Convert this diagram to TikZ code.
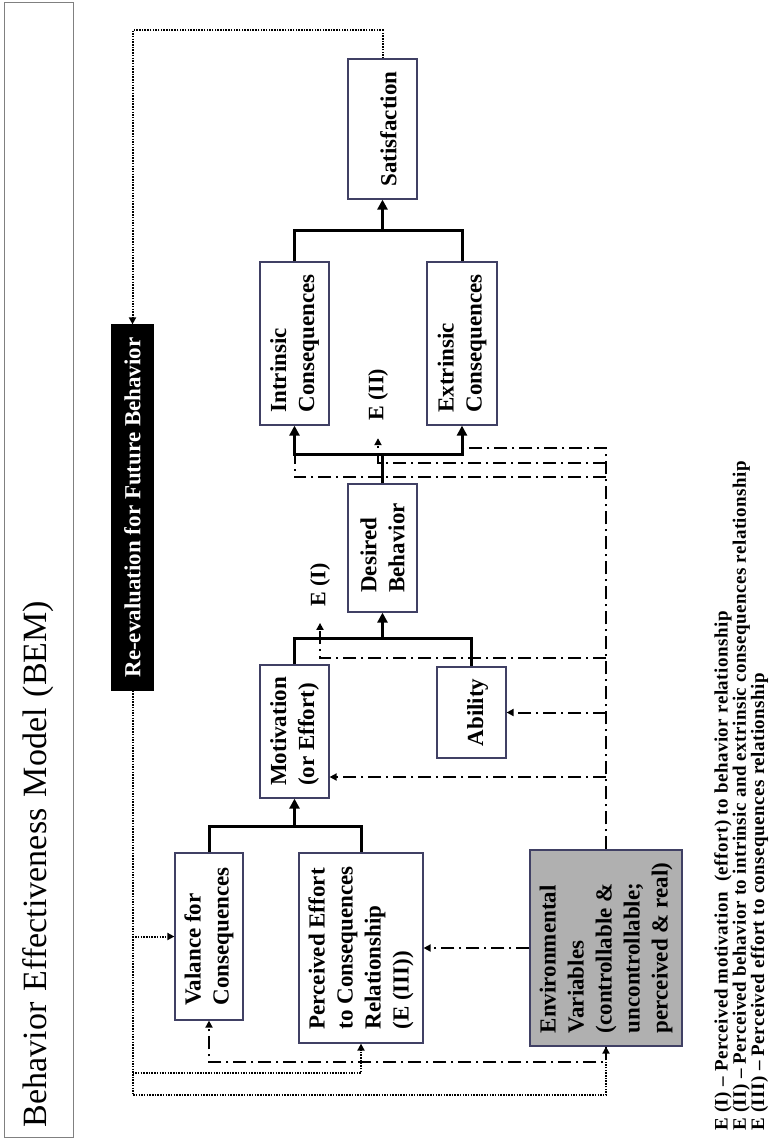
\documentclass[tikz,border=0pt]{standalone}
\usepackage{fontspec}
\setmainfont{Liberation Serif}
\usetikzlibrary{arrows.meta}
\definecolor{boxline}{RGB}{64,64,100}
\definecolor{envgray}{RGB}{176,176,176}

\begin{document}
\begin{tikzpicture}[
    x=1pt, y=1pt,
    blk/.style={draw=boxline, line width=1.2pt, rotate=90, align=left, inner sep=0pt,
        font=\fontsize{23}{28}\selectfont\bfseries},
    tag/.style={rotate=90, inner sep=2pt, font=\fontsize{22}{26}\selectfont\bfseries},
    flow/.style={line width=3pt},
    flowarr/.style={flow, -{Triangle[length=10pt,width=10pt]}},
    flowtips/.style={flow, {Triangle[length=10pt,width=10pt]}-{Triangle[length=10pt,width=10pt]}},
    envln/.style={line width=2pt, dash pattern=on 13pt off 5pt on 2pt off 5pt},
    envarr/.style={envln, -{Triangle[length=7pt,width=7pt]}},
    fb/.style={line width=2pt, dash pattern=on 1.5pt off 1.2pt},
    fbarr/.style={fb, -{Triangle[length=7pt,width=7pt]}}
]
\useasboundingbox (0,0) rectangle (778,-1141);

% title
\node[draw=gray, line width=1pt, rotate=90, inner sep=10pt, minimum height=69pt,
      text width=1115pt, align=left, font=\fontsize{34}{40}\selectfont]
      (title) at (38.5,-569.5) {Behavior Effectiveness Model (BEM)};

% boxes
\node[blk, minimum width=140pt, minimum height=69pt] (sat) at (382.5,-129) {\mbox{}\\Satisfaction};
\node[blk, minimum width=163pt, minimum height=69pt] (intr) at (294.5,-343.5) {Intrinsic\\Consequences};
\node[blk, minimum width=163pt, minimum height=70pt] (extr) at (462,-343.5) {Extrinsic\\Consequences};
\node[blk, minimum width=128pt, minimum height=69pt] (desb) at (382.5,-548) {Desired\\Behavior};
\node[blk, minimum width=133pt, minimum height=69pt] (mot) at (294.5,-731.5) {Motivation\\(or Effort)};
\node[blk, minimum width=91pt, minimum height=69pt] (abil) at (471.5,-712.5) {\mbox{}\\Ability};
\node[blk, minimum width=167pt, minimum height=68pt] (val) at (209,-936.5) {Valance for\\Consequences};
\node[blk, minimum width=190pt, minimum height=124pt] (perc) at (361,-948)
    {Perceived Effort\\to Consequences\\Relationship\\(E (III))};
\node[blk, fill=envgray, minimum width=196pt, minimum height=152pt] (env) at (606,-948)
    {Environmental\\Variables\\(controllable \&\\uncontrollable;\\perceived \& real)};
\node[blk, draw=black, fill=black, text=white, align=center, minimum width=365pt,
      minimum height=41pt] (reev) at (132.5,-507.5) {Re-evaluation for Future Behavior};

\node[tag] (e1) at (320,-585) {E (I)};
\node[tag] (e2) at (378,-395) {E (II)};

% levels of the connectors
\coordinate (topbar) at (0,-230);
\coordinate (midbar) at (0,-454);
\coordinate (motbar) at (0,-638);
\coordinate (lowbar) at (0,-826);
\coordinate (extbar) at (0,-448);
\coordinate (e2bar) at (0,-463);
\coordinate (intbar) at (0,-477);
\coordinate (e1bar) at (0,-658);
\coordinate (motin) at (0,-777);
\coordinate (valbar) at (0,-1062);
\coordinate (fbperc) at (0,-1073);
\coordinate (fbenv) at (0,-1095);

% solid flow
\draw[flow] (intr.east) |- (topbar -| extr.east) -- (extr.east);
\draw[flowarr] (topbar -| sat.west) -- (sat.west);
\draw[flow] (desb.east) -- (midbar -| desb.east);
\draw[flowtips] (intr.west) |- (midbar -| extr.west) -- (extr.west);
\draw[flow] (mot.east) |- (motbar -| abil.east) -- (abil.east);
\draw[flowarr] (motbar -| desb.west) -- (desb.west);
\draw[flow] (val.east) |- (lowbar -| perc.east) -- (perc.east);
\draw[flowarr] (lowbar -| mot.west) -- (mot.west);

% environment
\draw[envln] (env.east) |- (extbar -| extr.west);
\draw[envln] (env.east |- intbar) -| (midbar -| intr.west);
\draw[envarr, shorten >=15pt] (env.east |- e2bar) -| (e2.west);
\draw[envarr, shorten >=14pt] (env.east |- e1bar) -| (e1.west);
\draw[envarr] (env.east |- abil.south) -- (abil.south);
\draw[envarr] (env.east |- motin) -- (motin -| mot.south);
\draw[envarr] (env.north) -- (perc.south);
\draw[envarr] (env.west) |- (valbar -| val.west) -- (val.west);

% feedback
\draw[fbarr] (sat.east) -- ++(0,28) -| (reev.east);
\draw[fbarr] (reev.west) |- (fbenv -| env.west) -- (env.west);
\draw[fbarr] (reev.west |- val.north) -- (val.north);
\draw[fbarr] (reev.west |- fbperc) -| (perc.west);

% key
\node[rotate=90, anchor=north west, align=left, inner sep=0pt,
      font=\fontsize{19}{16.7}\selectfont\bfseries\addfontfeatures{LetterSpace=2.5}]
      (key) at (714,-1131)
    {E (I) – Perceived motivation\ \ (effort) to behavior relationship\\
     E (II) – Perceived behavior to intrinsic and extrinsic consequences relationship\\
     E (III) – Perceived effort to consequences relationship};

\end{tikzpicture}
\end{document}
